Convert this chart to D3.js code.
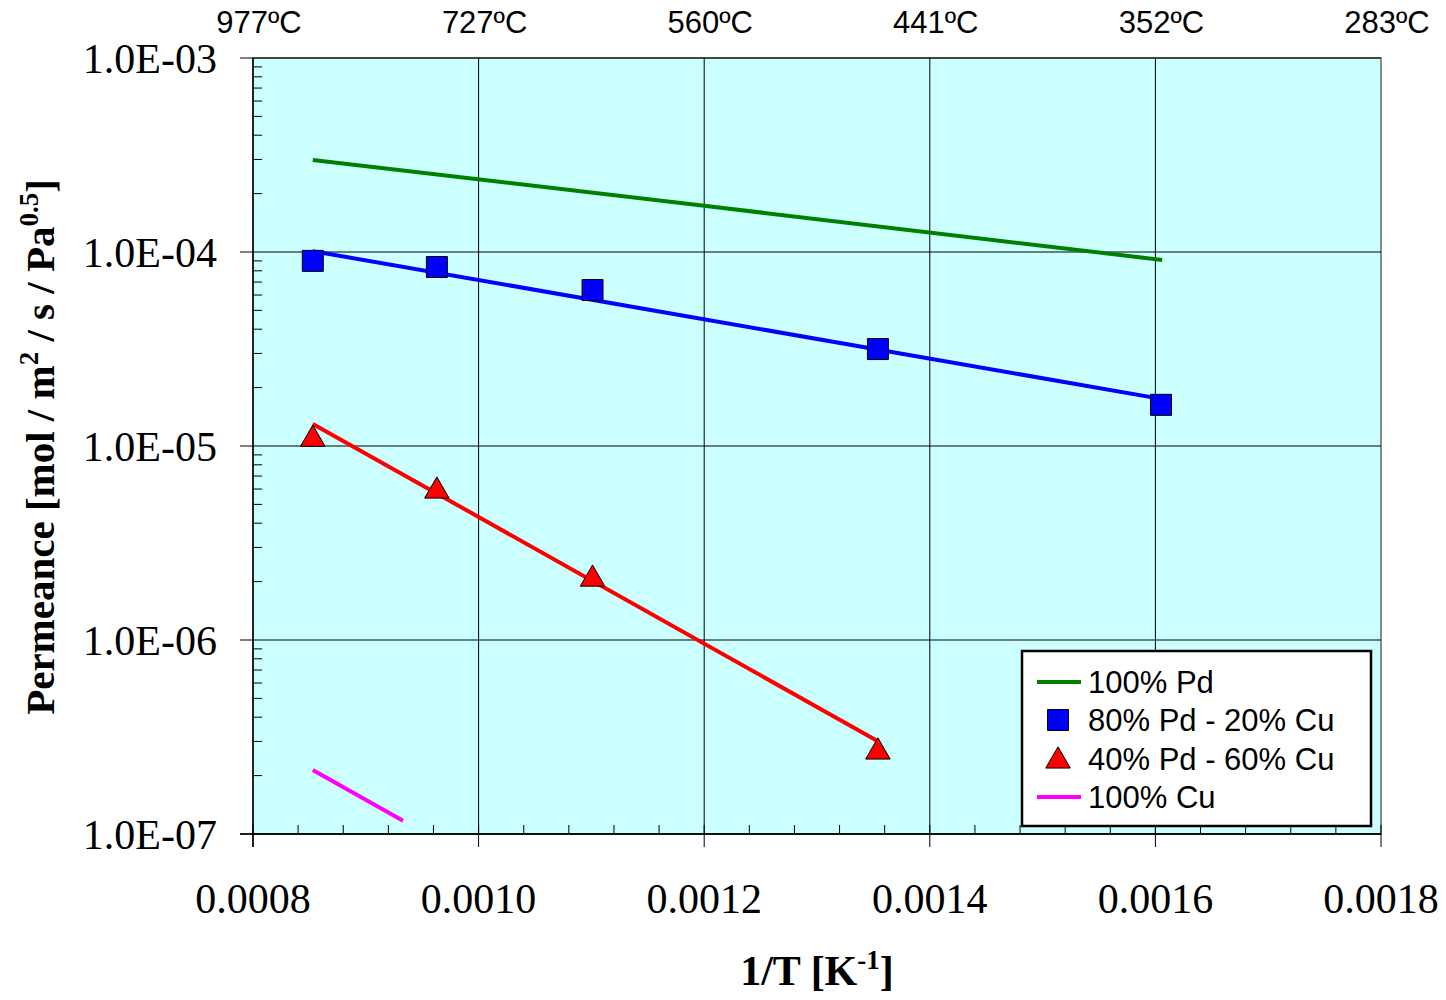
<!DOCTYPE html>
<html><head><meta charset="utf-8">
<script src="https://cdn.jsdelivr.net/npm/d3@7"></script>
<style>body{margin:0;background:#fff}</style>
</head><body>
<svg id="c" width="1446" height="1000"></svg>
<script>
const xTicks = [0.0008, 0.0010, 0.0012, 0.0014, 0.0016, 0.0018];
const xTickLabels = ["0.0008", "0.0010", "0.0012", "0.0014", "0.0016", "0.0018"];
const topLabels = ["977ºC", "727ºC", "560ºC", "441ºC", "352ºC", "283ºC"];
const yTicks = [1e-7, 1e-6, 1e-5, 1e-4, 1e-3];
const yTickLabels = ["1.0E-07", "1.0E-06", "1.0E-05", "1.0E-04", "1.0E-03"];

const pdLineX = [0.000853, 0.0012, 0.001606];
const pdLineY = [2.98e-4, 1.73e-4, 9.1e-5];
const pdCuX = [0.000853, 0.000963, 0.001101, 0.001354, 0.001605];
const pdCuY = [9.0e-5, 8.37e-5, 6.37e-5, 3.16e-5, 1.63e-5];
const pdCuFitX = [0.000853, 0.001605];
const pdCuFitY = [1.01e-4, 1.75e-5];
const pd40X = [0.000853, 0.000963, 0.001101, 0.001354];
const pd40Y = [1.11e-5, 6.0e-6, 2.11e-6, 2.71e-7];
const pd40FitX = [0.000853, 0.001354];
const pd40FitY = [1.30e-5, 3.01e-7];
const cuLineX = [0.000853, 0.000933];
const cuLineY = [2.14e-7, 1.17e-7];

const legendLabels = ["100% Pd", "80% Pd - 20% Cu", "40% Pd - 60% Cu", "100% Cu"];

const L = 253, R = 1381, T = 58, B = 834;
const svg = d3.select("#c");
const x = d3.scaleLinear().domain([0.0008, 0.0018]).range([L, R]);
const y = d3.scaleLog().domain([1e-7, 1e-3]).range([B, T]);

svg.append("rect").attr("x", L).attr("y", T).attr("width", R - L).attr("height", B - T)
  .attr("fill", "#ccffff").attr("stroke", "#666").attr("stroke-width", 1.5);

// gridlines
svg.append("g").selectAll("line").data(xTicks.slice(1, -1)).join("line")
  .attr("x1", d => x(d)).attr("x2", d => x(d)).attr("y1", T).attr("y2", B)
  .attr("stroke", "#000").attr("stroke-width", 1);
svg.append("g").selectAll("line").data(yTicks).join("line")
  .attr("x1", L - 13).attr("x2", R).attr("y1", d => y(d)).attr("y2", d => y(d))
  .attr("stroke", "#000").attr("stroke-width", 1);

// minor y ticks (inside)
const yMinor = [];
for (let e = -7; e < -3; e++) for (let k = 2; k <= 9; k++) yMinor.push(k * Math.pow(10, e));
svg.append("g").selectAll("line").data(yMinor).join("line")
  .attr("x1", L).attr("x2", L + 9).attr("y1", d => y(d)).attr("y2", d => y(d))
  .attr("stroke", "#000").attr("stroke-width", 1);
// minor x ticks (inside)
const xMinor = d3.range(0, 26).map(i => 0.0008 + i * 0.00004);
svg.append("g").selectAll("line").data(xMinor).join("line")
  .attr("x1", d => x(d)).attr("x2", d => x(d)).attr("y1", B).attr("y2", B - 9)
  .attr("stroke", "#000").attr("stroke-width", 1);
// major x ticks outside
svg.append("g").selectAll("line").data(xTicks).join("line")
  .attr("x1", d => x(d)).attr("x2", d => x(d)).attr("y1", B).attr("y2", B + 13)
  .attr("stroke", "#000").attr("stroke-width", 1);

// axes lines
svg.append("line").attr("x1", L).attr("x2", L).attr("y1", T).attr("y2", B + 13).attr("stroke", "#000").attr("stroke-width", 1.5);
svg.append("line").attr("x1", L - 13).attr("x2", R).attr("y1", B).attr("y2", B).attr("stroke", "#000").attr("stroke-width", 1.5);

const serif = "'Liberation Serif','Times New Roman',serif";
const sans = "'Liberation Sans',Arial,sans-serif";

// tick labels
svg.append("g").selectAll("text").data(yTicks).join("text")
  .attr("x", 217).attr("y", d => y(d) + 15).attr("text-anchor", "end")
  .attr("font-family", serif).attr("font-size", 42).text((d, i) => yTickLabels[i]);
svg.append("g").selectAll("text").data(xTicks).join("text")
  .attr("x", d => x(d)).attr("y", 913).attr("text-anchor", "middle")
  .attr("font-family", serif).attr("font-size", 42).text((d, i) => xTickLabels[i]);
svg.append("g").selectAll("text").data(xTicks).join("text")
  .attr("x", d => x(d) + 6).attr("y", 33).attr("text-anchor", "middle")
  .attr("font-family", sans).attr("font-size", 31).text((d, i) => topLabels[i]);

// axis titles
const xt = svg.append("text").attr("x", 817).attr("y", 985).attr("text-anchor", "middle")
  .attr("font-family", serif).attr("font-size", 42).attr("font-weight", "bold");
xt.append("tspan").text("1/T [K");
xt.append("tspan").attr("font-size", 27).attr("dy", -16).text("-1");
xt.append("tspan").attr("dy", 16).text("]");

const yt = svg.append("text").attr("transform", "translate(54,447) rotate(-90)").attr("text-anchor", "middle")
  .attr("font-family", serif).attr("font-size", 41).attr("font-weight", "bold");
yt.append("tspan").text("Permeance [mol / m");
yt.append("tspan").attr("font-size", 27).attr("dy", -16).text("2");
yt.append("tspan").attr("dy", 16).text(" / s / Pa");
yt.append("tspan").attr("font-size", 27).attr("dy", -16).text("0.5");
yt.append("tspan").attr("dy", 16).text("]");

const line = d3.line().x(d => x(d[0])).y(d => y(d[1]));
const zip = (a, b) => a.map((v, i) => [v, b[i]]);
const plot = svg.append("g");
plot.append("path").attr("d", line(zip(pdLineX, pdLineY))).attr("fill", "none").attr("stroke", "#008000").attr("stroke-width", 4);
plot.append("path").attr("d", line(zip(pdCuFitX, pdCuFitY))).attr("fill", "none").attr("stroke", "#0000ff").attr("stroke-width", 4);
plot.append("path").attr("d", line(zip(pd40FitX, pd40FitY))).attr("fill", "none").attr("stroke", "#ff0000").attr("stroke-width", 4);
plot.append("path").attr("d", line(zip(cuLineX, cuLineY))).attr("fill", "none").attr("stroke", "#ff00ff").attr("stroke-width", 4);

const sq = d3.symbol().type(d3.symbolSquare).size(440);
const tri = d3.symbol().type(d3.symbolTriangle).size(260);
plot.append("g").selectAll("path").data(zip(pdCuX, pdCuY)).join("path")
  .attr("d", sq).attr("transform", d => `translate(${x(d[0])},${y(d[1])})`)
  .attr("fill", "#0000ff").attr("stroke", "#000").attr("stroke-width", 1);
plot.append("g").selectAll("path").data(zip(pd40X, pd40Y)).join("path")
  .attr("d", tri).attr("transform", d => `translate(${x(d[0])},${y(d[1]) + 2})`)
  .attr("fill", "#ff0000").attr("stroke", "#000").attr("stroke-width", 1);

// legend
const lg = svg.append("g");
lg.append("rect").attr("x", 1022).attr("y", 651).attr("width", 349).attr("height", 175)
  .attr("fill", "#fff").attr("stroke", "#000").attr("stroke-width", 2.5);
const ly = [682, 720, 759, 797];
lg.append("line").attr("x1", 1037).attr("x2", 1081).attr("y1", ly[0]).attr("y2", ly[0]).attr("stroke", "#008000").attr("stroke-width", 4);
lg.append("path").attr("d", sq).attr("transform", `translate(1058,${ly[1]})`).attr("fill", "#0000ff").attr("stroke", "#000");
lg.append("path").attr("d", tri).attr("transform", `translate(1058,${ly[2] + 2})`).attr("fill", "#ff0000").attr("stroke", "#000");
lg.append("line").attr("x1", 1037).attr("x2", 1081).attr("y1", ly[3]).attr("y2", ly[3]).attr("stroke", "#ff00ff").attr("stroke-width", 4);
lg.selectAll("text").data(legendLabels).join("text")
  .attr("x", 1088).attr("y", (d, i) => ly[i] + 11).attr("font-family", sans).attr("font-size", 31).text(d => d);
</script>
</body></html>
